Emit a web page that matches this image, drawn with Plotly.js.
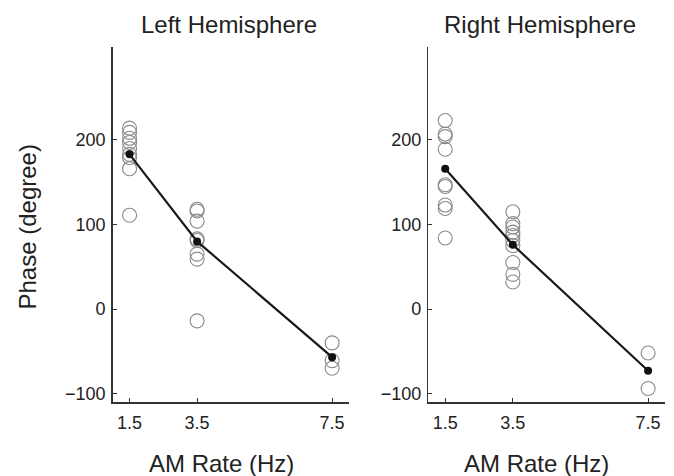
<!DOCTYPE html>
<html>
<head>
<meta charset="utf-8">
<script src="https://cdn.plot.ly/plotly-3.0.1.min.js"></script>
<style>html,body{margin:0;padding:0;background:#fff;}</style>
</head>
<body>
<div id="chart" style="width:674px;height:476px;"></div>
<script>
// AM rates (Hz)
var rates = [1.5, 3.5, 7.5];
var tickLabels = ['1.5', '3.5', '7.5'];

// Left hemisphere individual phases (degrees)
var leftX = [1.5,1.5,1.5,1.5,1.5,1.5,1.5,1.5,1.5, 3.5,3.5,3.5,3.5,3.5,3.5,3.5,3.5, 7.5,7.5,7.5];
var leftY = [214,209,202,197,190,183,179,166,111, 118,116,104,83,81,65,59,-14, -40,-61,-70];
var leftMean = [183, 80, -57];

// Right hemisphere individual phases (degrees)
var rightX = [1.5,1.5,1.5,1.5,1.5,1.5,1.5,1.5,1.5, 3.5,3.5,3.5,3.5,3.5,3.5,3.5,3.5,3.5,3.5, 7.5,7.5];
var rightY = [223,207,204,189,147,145,123,119,84, 115,101,97,91,87,81,75,55,41,32, -52,-94];
var rightMean = [166, 76, -73];

var circ = {symbol:'circle-open', size:14, color:'#8a8a8a', line:{width:1.1, color:'#8a8a8a'}};
var meanMarker = {symbol:'circle', size:8, color:'#111'};
var meanLine = {color:'#1a1a1a', width:2.2};

var data = [
  {x:leftX, y:leftY, mode:'markers', marker:circ, xaxis:'x', yaxis:'y', hoverinfo:'skip'},
  {x:rates, y:leftMean, mode:'lines+markers', marker:meanMarker, line:meanLine, xaxis:'x', yaxis:'y'},
  {x:rightX, y:rightY, mode:'markers', marker:circ, xaxis:'x2', yaxis:'y2', hoverinfo:'skip'},
  {x:rates, y:rightMean, mode:'lines+markers', marker:meanMarker, line:meanLine, xaxis:'x2', yaxis:'y2'}
];

var fontFam = 'Liberation Sans, Arial, sans-serif';
function xa(dom, anchor){
  return {domain:dom, anchor:anchor, range:[1,8], tickvals:rates, ticktext:tickLabels,
    showline:true, linecolor:'#333', linewidth:1.5, ticks:'inside', ticklen:4, tickcolor:'#333',
    ticklabelstandoff:4,
    showgrid:false, zeroline:false, tickfont:{size:18, color:'#222', family:fontFam}};
}
function ya(anchor){
  return {domain:[0,1], anchor:anchor, range:[-110,310], tickvals:[-100,0,100,200],
    showline:true, linecolor:'#333', linewidth:1.5, ticks:'inside', ticklen:4, tickcolor:'#333',
    ticklabelstandoff:2,
    showgrid:false, zeroline:false, tickfont:{size:18, color:'#222', family:fontFam}};
}

var W = 674, H = 476;
var layout = {
  width:W, height:H,
  margin:{l:0, r:0, t:47, b:74},
  paper_bgcolor:'#fff', plot_bgcolor:'#fff',
  showlegend:false,
  font:{family:fontFam, color:'#222'},
  xaxis: xa([112.7/W, 349/W], 'y'),
  yaxis: ya('x'),
  xaxis2: xa([428.3/W, 665/W], 'y2'),
  yaxis2: ya('x2'),
  annotations:[
    {text:'Left Hemisphere', xref:'paper', yref:'paper', x:229/W, y:1, yshift:23, showarrow:false, font:{size:24, color:'#222'}, xanchor:'center', yanchor:'middle'},
    {text:'Right Hemisphere', xref:'paper', yref:'paper', x:540/W, y:1, yshift:23, showarrow:false, font:{size:24, color:'#222'}, xanchor:'center', yanchor:'middle'},
    {text:'AM Rate (Hz)', xref:'paper', yref:'paper', x:221/W, y:0, yshift:-61, showarrow:false, font:{size:24, color:'#222'}, xanchor:'center', yanchor:'middle'},
    {text:'AM Rate (Hz)', xref:'paper', yref:'paper', x:536/W, y:0, yshift:-61, showarrow:false, font:{size:24, color:'#222'}, xanchor:'center', yanchor:'middle'},
    {text:'Phase (degree)', xref:'paper', yref:'paper', x:0, xshift:27, y:0.5, yshift:-3, textangle:-90, showarrow:false, font:{size:24, color:'#222'}, xanchor:'center', yanchor:'middle'}
  ]
};

Plotly.newPlot('chart', data, layout, {displayModeBar:false, staticPlot:true});
</script>
</body>
</html>
